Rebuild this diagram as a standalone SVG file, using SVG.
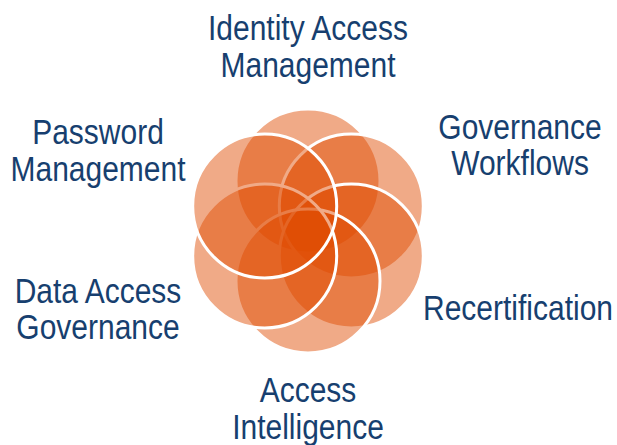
<svg xmlns="http://www.w3.org/2000/svg" width="617" height="445" viewBox="0 0 617 445">
  <style>
    .petal { fill: #df4a00; fill-opacity: 0.47; stroke: #ffffff; stroke-width: 3; }
    .label { font-family: "Liberation Sans", Arial, sans-serif; font-size: 30px; fill: #173f6f; text-anchor: middle; }
  </style>
  <rect width="617" height="445" fill="#ffffff"/>

  <!-- six overlapping circles, drawn clockwise from the top so each white rim sits over the previous one -->
  <g id="flower">
    <circle id="petal-top" class="petal" cx="308" cy="181" r="72"/>
    <circle id="petal-upper-right" class="petal" cx="351.3" cy="206" r="72"/>
    <circle id="petal-lower-right" class="petal" cx="351.3" cy="256" r="72"/>
    <circle id="petal-bottom" class="petal" cx="308" cy="281" r="72"/>
    <circle id="petal-lower-left" class="petal" cx="264.7" cy="256" r="72"/>
    <circle id="petal-upper-left" class="petal" cx="264.7" cy="206" r="72"/>
  </g>

  <g id="connectors"></g>

  <!-- labels: slightly tall lettering, so each line is scaled vertically about its baseline -->
  <g id="identity-access-management">
    <text class="label" transform="translate(308 40) scale(1 1.14)">Identity Access</text>
    <text class="label" transform="translate(308 77) scale(1 1.14)">Management</text>
  </g>
  <g id="governance-workflows">
    <text class="label" transform="translate(520 139) scale(1 1.14)">Governance</text>
    <text class="label" transform="translate(520 175) scale(1 1.14)">Workflows</text>
  </g>
  <g id="recertification">
    <text class="label" transform="translate(518 320) scale(1 1.14)">Recertification</text>
  </g>
  <g id="access-intelligence">
    <text class="label" transform="translate(308 402) scale(1 1.14)">Access</text>
    <text class="label" transform="translate(308 439) scale(1 1.14)">Intelligence</text>
  </g>
  <g id="data-access-governance">
    <text class="label" transform="translate(98 303) scale(1 1.14)">Data Access</text>
    <text class="label" transform="translate(98 339) scale(1 1.14)">Governance</text>
  </g>
  <g id="password-management">
    <text class="label" transform="translate(98 144) scale(1 1.14)">Password</text>
    <text class="label" transform="translate(98 181) scale(1 1.14)">Management</text>
  </g>
</svg>
